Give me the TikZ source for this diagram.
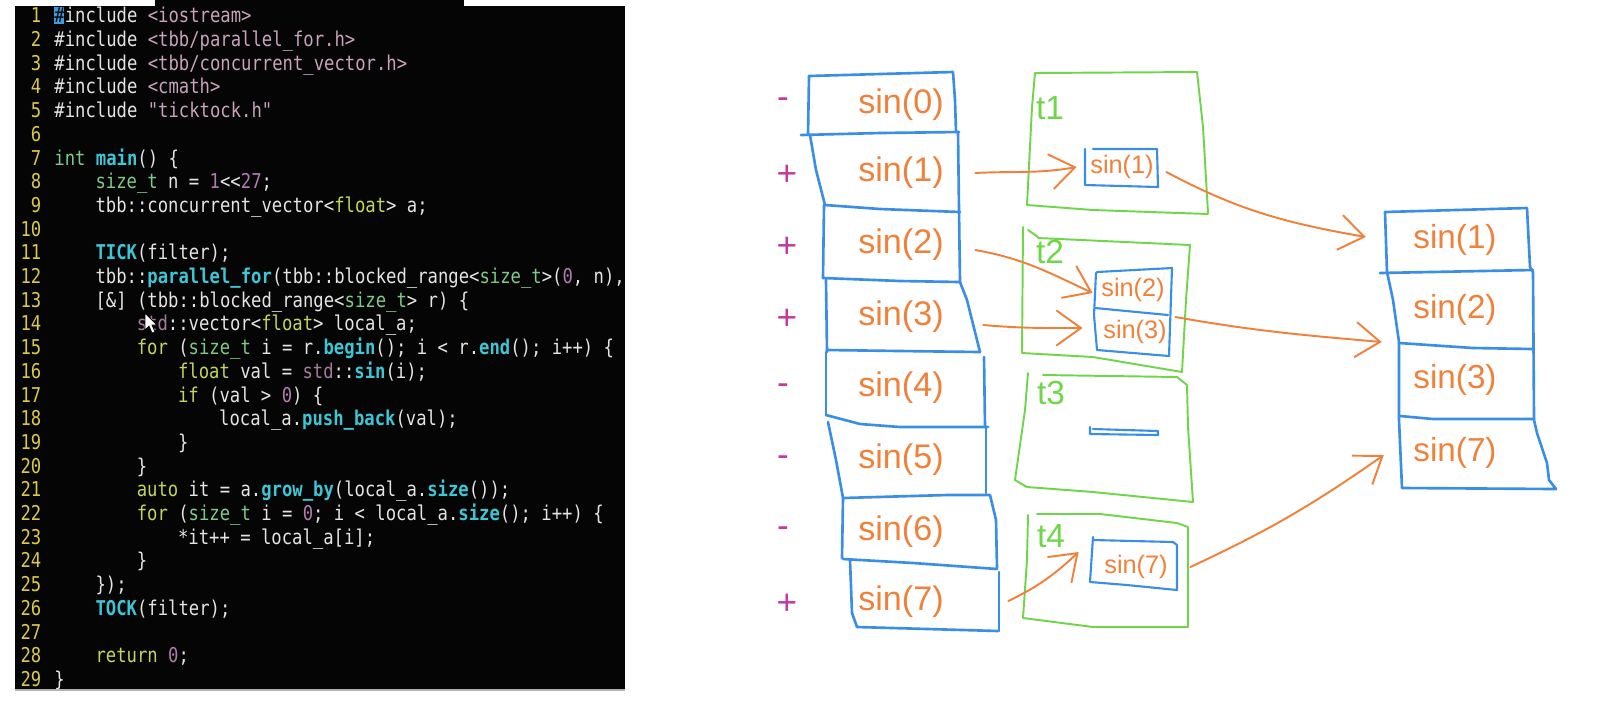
\documentclass[tikz,border=0pt]{standalone}
\usepackage{fontspec}
\setmainfont{Liberation Sans}
\setmonofont[FakeStretch=0.845]{DejaVu Sans Mono}
\usetikzlibrary{arrows.meta,calc}
\definecolor{codebg}{HTML}{050505}
\definecolor{lnumc}{HTML}{D9C84A}
\definecolor{ctext}{HTML}{E4E4E4}
\definecolor{cinc}{HTML}{C9A2BE}
\definecolor{ctype}{HTML}{7CCB8A}
\definecolor{ckw}{HTML}{C2D65A}
\definecolor{cnum}{HTML}{B07CB0}
\definecolor{cstdc}{HTML}{A57BA0}
\definecolor{cfun}{HTML}{3CC6D6}
\definecolor{ccur}{HTML}{3E9BDC}
\definecolor{penblue}{HTML}{3A8EE6}
\definecolor{pengreen}{HTML}{6FD64A}
\definecolor{penor}{HTML}{F0813A}
\definecolor{signc}{HTML}{C23A9E}
\newcommand\cIn[1]{\textcolor{cinc}{#1}}
\newcommand\cTy[1]{\textcolor{ctype}{#1}}
\newcommand\cKw[1]{\textcolor{ckw}{#1}}
\newcommand\cNu[1]{\textcolor{cnum}{#1}}
\newcommand\cSd[1]{\textcolor{cstdc}{#1}}
\newcommand\cFn[1]{\textcolor{cfun}{\bfseries #1}}
\tikzset{
  code/.style={anchor=mid west, inner sep=0pt, text=ctext, font=\fontsize{5.8}{6}\selectfont\ttfamily},
  lnumst/.style={anchor=mid east, inner sep=0pt, text=lnumc, font=\fontsize{5.8}{6}\selectfont\ttfamily},
  sinbig/.style={inner sep=0pt, text=penor, font=\fontsize{9.7}{11}\selectfont},
  sinsmall/.style={inner sep=0pt, text=penor, font=\fontsize{7.2}{9}\selectfont},
  sinres/.style={inner sep=0pt, text=penor, font=\fontsize{9.45}{11}\selectfont},
  tlab/.style={inner sep=0pt, text=pengreen, font=\fontsize{9.5}{11}\selectfont},
  signst/.style={inner sep=0pt, anchor=base, text=signc, font=\fontsize{10}{12}\selectfont},
  bl/.style={draw=penblue, line width=0.75pt, line join=round, line cap=round},
  blt/.style={draw=penblue, line width=0.6pt, line join=round, line cap=round},
  gr/.style={draw=pengreen, line width=0.55pt, line join=round, line cap=round},
  arr/.style={draw=penor, line width=0.55pt, line cap=round, -{Straight Barb[length=7pt,width=10pt]}},
}
\begin{document}
\begin{tikzpicture}[x=0.01cm,y=-0.01cm]
\useasboundingbox (0,0) rectangle (1618,708);
\fill[white] (0,0) rectangle (1618,708);
% ---------------- code panel ----------------
\fill[codebg] (15,6) rectangle (625,690);
\fill[codebg] (155,0) rectangle (464,6);
\draw[gray!60, line width=0.3pt] (15,690) -- (625,690);
\fill[ccur] (53.7,6.5) rectangle (64,24);
\foreach \k in {1,...,29} \node[lnumst] (n\k) at (42,{13.5+23.7*(\k-1)}) {\k};
\node[code] (c1) at (53.7,13.5) {{\color{codebg}\#}include \cIn{<iostream>}};
\node[code] (c2) at (53.7,37.2) {\#include \cIn{<tbb/parallel\_for.h>}};
\node[code] (c3) at (53.7,60.9) {\#include \cIn{<tbb/concurrent\_vector.h>}};
\node[code] (c4) at (53.7,84.6) {\#include \cIn{<cmath>}};
\node[code] (c5) at (53.7,108.3) {\#include \cIn{"ticktock.h"}};
\node[code] (c7) at (53.7,155.7) {\cTy{int} \cFn{main}() \{};
\node[code] (c8) at (94.9,179.4) {\cTy{size\_t} n = \cNu{1}<{}<\cNu{27};};
\node[code] (c9) at (94.9,203.1) {tbb::concurrent\_vector<\cKw{float}> a;};
\node[code] (c11) at (94.9,250.5) {\cFn{TICK}(filter);};
\node[code] (c12) at (94.9,274.2) {tbb::\cFn{parallel\_for}(tbb::blocked\_range<\cTy{size\_t}>(\cNu{0}, n),};
\node[code] (c13) at (94.9,297.9) {[\&] (tbb::blocked\_range<\cTy{size\_t}> r) \{};
\node[code] (c14) at (136.1,321.6) {\cSd{std}::vector<\cKw{float}> local\_a;};
\node[code] (c15) at (136.1,345.3) {\cKw{for} (\cTy{size\_t} i = r.\cFn{begin}(); i < r.\cFn{end}(); i++) \{};
\node[code] (c16) at (177.3,369) {\cKw{float} val = \cSd{std}::\cFn{sin}(i);};
\node[code] (c17) at (177.3,392.7) {\cKw{if} (val > \cNu{0}) \{};
\node[code] (c18) at (218.5,416.4) {local\_a.\cFn{push\_back}(val);};
\node[code] (c19) at (177.3,440.1) {\}};
\node[code] (c20) at (136.1,463.8) {\}};
\node[code] (c21) at (136.1,487.5) {\cKw{auto} it = a.\cFn{grow\_by}(local\_a.\cFn{size}());};
\node[code] (c22) at (136.1,511.2) {\cKw{for} (\cTy{size\_t} i = \cNu{0}; i < local\_a.\cFn{size}(); i++) \{};
\node[code] (c23) at (177.3,534.9) {*it++ = local\_a[i];};
\node[code] (c24) at (136.1,558.6) {\}};
\node[code] (c25) at (94.9,582.3) {\});};
\node[code] (c26) at (94.9,606) {\cFn{TOCK}(filter);};
\node[code] (c28) at (94.9,653.4) {\cKw{return} \cNu{0};};
\node[code] (c29) at (53.7,677.1) {\}};
% mouse pointer
\filldraw[fill=white, draw=black, line width=0.2pt] (145,313) -- (145,330) -- (149,326) -- (152,333) -- (155,332) -- (152,325) -- (157,325) -- cycle;
% ---------------- left column ----------------
\draw[bl] (809,76) -- (808,135);
\draw[bl] (809,76) -- (880,74) -- (953,72) -- (955,100) -- (956,132);
\draw[bl] (801,135) -- (880,133) -- (959,132);
\draw[bl] (810,135) -- (816,170) -- (825,205);
\draw[bl] (958,132) -- (959,210) -- (960,282) -- (967,300) -- (980,352);
\draw[bl] (825,205) -- (880,209) -- (960,212);
\draw[bl] (824,205) -- (823,278);
\draw[bl] (823,278) -- (900,281) -- (960,282);
\draw[bl] (826,280) -- (827,352);
\draw[bl] (827,350) -- (900,351) -- (980,352);
\draw[bl] (826,352) -- (826,415);
\draw[bl] (984,357) -- (985,427);
\draw[bl] (826,415) -- (860,424) -- (900,427) -- (988,427);
\draw[bl] (828,422) -- (836,460) -- (843,498);
\draw[bl] (986,427) -- (986,493);
\draw[bl] (843,498) -- (947,495) -- (990,495) -- (996,520) -- (997,568);
\draw[bl] (843,498) -- (842,558);
\draw[bl] (843,559) -- (913,563) -- (997,569);
\draw[bl] (850,560) -- (852,613) -- (857,627) -- (998,631);
\draw[bl] (999,572) -- (999,631);
\node[sinbig] (L0) at (901,105) {sin(0)};
\node[sinbig] (L1) at (901,173) {sin(1)};
\node[sinbig] (L2) at (901,245) {sin(2)};
\node[sinbig] (L3) at (901,317) {sin(3)};
\node[sinbig] (L4) at (901,388) {sin(4)};
\node[sinbig] (L5) at (901,460) {sin(5)};
\node[sinbig] (L6) at (901,532) {sin(6)};
\node[sinbig] (L7) at (901,602) {sin(7)};
\node[signst] (s0) at (783,108.5) {-};
\node[signst] (s1) at (787,185) {+};
\node[signst] (s2) at (787,257) {+};
\node[signst] (s3) at (787,329) {+};
\node[signst] (s4) at (783,394.5) {-};
\node[signst] (s5) at (783,466.5) {-};
\node[signst] (s6) at (783,537.5) {-};
\node[signst] (s7) at (787,614) {+};
% ---------------- thread boxes ----------------
% t1
\draw[gr] (1035,73) -- (1197,72) -- (1203,127) -- (1208,213);
\draw[gr] (1035,73) -- (1032,107) -- (1027,205) -- (1093,210) -- (1208,214);
\node[tlab] (t1) at (1050,108) {t1};
\draw[blt] (1085,149) -- (1085,185) -- (1158,187) -- (1157,149) -- (1093,149);
\node[sinsmall] (A1) at (1122,167) {sin(1)};
% t2
\draw[gr] (1023,227) -- (1022,353) -- (1093,357) -- (1182,372) -- (1186,300) -- (1190,245) -- (1038,238);
\draw[gr] (1028,230) -- (1038,237);
\node[tlab] (t2) at (1050,252) {t2};
\draw[blt] (1097,272) -- (1172,268) -- (1169,356) -- (1097,350) -- (1094,315) -- (1096,273);
\draw[blt] (1095,308) -- (1168,315);
\node[sinsmall] (B2) at (1133,290) {sin(2)};
\node[sinsmall] (B3) at (1135,332) {sin(3)};
% t3
\draw[gr] (1028,373) -- (1025,410) -- (1015,480) -- (1027,487) -- (1093,492) -- (1193,502) -- (1188,427) -- (1187,385) -- (1177,377) -- (1043,375);
\node[tlab] (t3) at (1051,393) {t3};
\draw[blt] (1090,427) -- (1090,434) -- (1158,435) -- (1158,431) -- (1093,429);
% t4
\draw[gr] (1028,515) -- (1027,560) -- (1023,618) -- (1093,627) -- (1188,627) -- (1188,527) -- (1177,523) -- (1100,514) -- (1037,514);
\node[tlab] (t4) at (1051,536) {t4};
\draw[blt] (1093,537) -- (1090,582) -- (1127,585) -- (1177,590) -- (1177,545) -- (1173,542) -- (1093,540);
\node[sinsmall] (C7) at (1136,567) {sin(7)};
% ---------------- result column ----------------
\draw[bl] (1385,212) -- (1527,208) -- (1530,267) -- (1533,272) -- (1534,420) -- (1537,433) -- (1547,463) -- (1549,480) -- (1556,489) -- (1402,488) -- (1399,420) -- (1399,342) -- (1393,300) -- (1387,272) -- cycle;
\draw[bl] (1380,273) -- (1533,270);
\draw[bl] (1399,343) -- (1473,348) -- (1533,349);
\draw[bl] (1400,416) -- (1433,419) -- (1534,419);
\node[sinres] (R1) at (1455,240) {sin(1)};
\node[sinres] (R2) at (1455,310) {sin(2)};
\node[sinres] (R3) at (1455,380) {sin(3)};
\node[sinres] (R7) at (1455,453) {sin(7)};
% ---------------- arrows ----------------
\draw[arr] ($(L1.east)+(31,0)$) to[out=3,in=190] ($(A1.west)+(-13,0)$);
\draw[arr] ($(L2.east)+(31,5)$) to[out=-10,in=155] ($(B2.west)+(-8,3)$);
\draw[arr] ($(L3.east)+(39,8)$) to[out=-5,in=180] ($(B3.west)+(-20,-4)$);
\draw[arr] ($(A1.east)+(12,5)$) to[out=-28,in=170] ($(R1.west)+(-47,-3)$);
\draw[arr] ($(B3.east)+(8,-15)$) to[out=-10,in=175] ($(R3.west)+(-31,-38)$);
\draw[arr] ($(C7.east)+(22,0)$) to[out=25,in=215] ($(R7.west)+(-29,2)$);
\draw[arr] ($(L7.east)+(64,-1)$) to[out=26,in=223] ($(C7.west)+(-25,-15)$);
\end{tikzpicture}
\end{document}
